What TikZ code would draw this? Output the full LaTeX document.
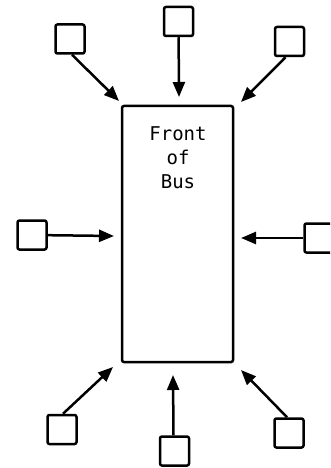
\documentclass[tikz,border=0pt]{standalone}
\usepackage{fontspec}
\setmainfont{DejaVu Sans Mono}
\usetikzlibrary{arrows.meta}
\begin{document}
\begin{tikzpicture}[x=1pt,y=-1pt,
  smallbox/.style={draw,line width=2.5pt,rounded corners=2pt,minimum width=29pt,minimum height=29pt,inner sep=0pt},
  busbox/.style={draw,line width=2.5pt,rounded corners=2pt,inner sep=0pt},
  feed/.style={line width=2.5pt,-{Triangle[length=15pt,width=12pt]}}]
\useasboundingbox (0,0) rectangle (330,468);
\clip (0,0) rectangle (330,468);
\node[busbox,minimum width=111pt,minimum height=256pt] (bus) at (177.5,234) {};
\node[font=\fontsize{19}{24}\selectfont,align=center,anchor=north,inner sep=0pt] (lbl) at (178,126) {Front\\of\\Bus};
% boxes
\node[smallbox] (tl) at (70,39) {};
\node[smallbox] (tm) at (178.5,21.5) {};
\node[smallbox] (tr) at (289.5,41.5) {};
\node[smallbox] (ml) at (32,235) {};
\node[smallbox] (mr) at (319,238) {};
\node[smallbox] (bl) at (62,429.5) {};
\node[smallbox] (bm) at (174.5,451) {};
\node[smallbox] (br) at (289,433) {};
% arrow targets
\coordinate (ttl) at (119,101);
\coordinate (ttm) at (179,97);
\coordinate (ttr) at (241,102);
\coordinate (tml) at (114,236);
\coordinate (tmr) at (241,238);
\coordinate (tbl) at (113,367);
\coordinate (tbm) at (173,375);
\coordinate (tbr) at (241,370);
\draw[feed] (tl.south) ++(2,0) -- (ttl);
\draw[feed] (tm) -- (ttm);
\draw[feed] (tr.south) ++(-4,0) -- (ttr);
\draw[feed] (ml) -- (tml);
\draw[feed] (mr) -- (tmr);
\draw[feed] (bl.north) ++(1,0) -- (tbl);
\draw[feed] (bm.north) ++(-1,0) -- (tbm);
\draw[feed] (br.north) ++(-2,0) -- (tbr);
\end{tikzpicture}
\end{document}
